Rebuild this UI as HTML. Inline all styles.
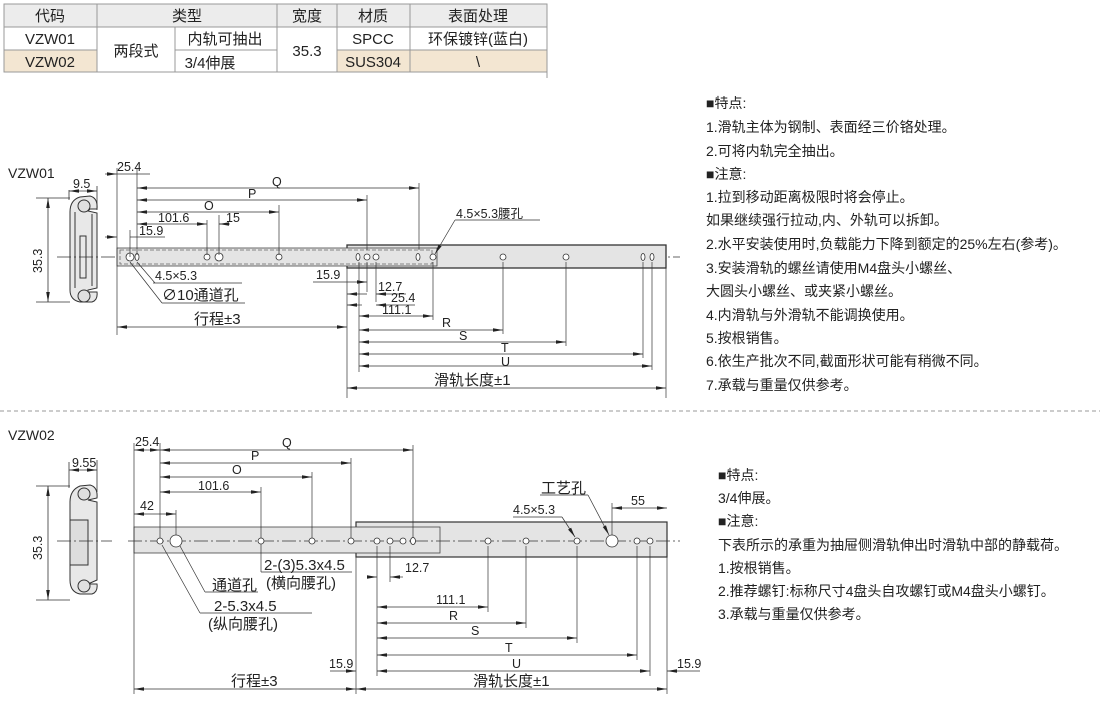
<!DOCTYPE html>
<html><head><meta charset="utf-8"><style>
body{margin:0;background:#fff;width:1117px;height:717px;overflow:hidden;font-family:"Liberation Sans","Noto Sans CJK SC",sans-serif}
svg{position:absolute;left:0;top:0}
.t{font-size:12.5px;fill:#222}
.c{font-size:15px;fill:#222}
.n{font-size:14px;fill:#222}
</style></head><body>
<svg width="1117" height="717" viewBox="0 0 1117 717" font-family="Liberation Sans, Noto Sans CJK SC, sans-serif">
<defs>
<marker id="a" viewBox="0 0 10 6" refX="10" refY="3" markerWidth="10" markerHeight="6" orient="auto-start-reverse" markerUnits="userSpaceOnUse"><path d="M0,1.2L10,3L0,4.8z" fill="#222"/></marker>
</defs>
<!-- table -->
<g stroke="#999" stroke-width="1">
<rect x="4" y="4" width="543" height="23" fill="#ececec"/>
<rect x="4" y="50" width="93" height="22" fill="#f3e6d2"/>
<rect x="337" y="50" width="73" height="22" fill="#f3e6d2"/>
<rect x="410" y="50" width="137" height="22" fill="#f3e6d2"/>
<line x1="4" y1="27" x2="547" y2="27"/><line x1="4" y1="50" x2="97" y2="50"/><line x1="175" y1="50" x2="277" y2="50"/><line x1="337" y1="50" x2="547" y2="50"/>
<line x1="4" y1="72" x2="547" y2="72"/>
<line x1="4" y1="4" x2="4" y2="72"/><line x1="97" y1="4" x2="97" y2="72"/><line x1="175" y1="27" x2="175" y2="72"/><line x1="277" y1="4" x2="277" y2="72"/><line x1="337" y1="4" x2="337" y2="72"/><line x1="410" y1="4" x2="410" y2="72"/><line x1="547" y1="4" x2="547" y2="78"/>
</g>
<g class="c" text-anchor="middle">
<text x="50" y="21">代码</text><text x="187" y="21">类型</text><text x="307" y="21">宽度</text><text x="373" y="21">材质</text><text x="478" y="21">表面处理</text>
<text x="50" y="44">VZW01</text><text x="50" y="67">VZW02</text><text x="136" y="56">两段式</text>
<text x="225" y="44">内轨可抽出</text><text x="210" y="68">3/4伸展</text>
<text x="307" y="56">35.3</text><text x="373" y="44">SPCC</text><text x="373" y="67">SUS304</text>
<text x="478" y="44">环保镀锌(蓝白)</text><text x="478" y="67">\</text>
</g>

<!-- VZW01 -->
<text x="8" y="178" class="n">VZW01</text>
<g fill="none" stroke="#333" stroke-width="1">
<path d="M80,197 Q70,200 70,212 L70,290 Q70,300 80,302 L92,302 Q98,300 97,292 L88,292 L88,290 L97,288 L97,213 L88,211 L90,209 L97,209 Q98,198 90,196Z" fill="#e8e8e8"/>
<path d="M75,212 L75,288 M92,214 L92,286 M80,236 L80,278 L86,278 L86,236Z"/>
<circle cx="84" cy="206" r="6" fill="#e0e0e0"/><circle cx="84" cy="296" r="6" fill="#e0e0e0"/>
</g>
<g stroke="#333" stroke-width="0.8" fill="none">
<line x1="36" y1="198" x2="70" y2="198"/><line x1="36" y1="302" x2="70" y2="302"/>
<line x1="48" y1="198" x2="48" y2="302" marker-start="url(#a)" marker-end="url(#a)"/>
<line x1="69" y1="190" x2="69" y2="200"/><line x1="97" y1="186" x2="97" y2="210"/>
<line x1="69" y1="191" x2="97" y2="191" marker-start="url(#a)" marker-end="url(#a)"/>
<line x1="57" y1="257" x2="680" y2="257" stroke-dasharray="14,3,2,3"/>
</g>
<text x="42" y="265" class="t" transform="rotate(-90 42 265)" dx="-8">35.3</text>
<text x="73" y="188" class="t">9.5</text>
<!-- rails -->
<rect x="347" y="245" width="319" height="23" fill="#e4e4e4" stroke="#333" stroke-width="1.3"/>
<rect x="117" y="248" width="320" height="18" fill="#e4e4e4" stroke="#444" stroke-width="0.8"/>
<rect x="120" y="250" width="312" height="14" fill="none" stroke="#666" stroke-width="0.8" stroke-dasharray="4,2"/>
<g fill="#fff" stroke="#333" stroke-width="0.8">
<circle cx="130" cy="257" r="4"/><ellipse cx="137" cy="257" rx="2" ry="3.5"/><circle cx="207" cy="257" r="3"/><circle cx="219" cy="257" r="4"/><circle cx="279" cy="257" r="3"/>
<ellipse cx="358" cy="257" rx="2" ry="3.5"/><circle cx="367" cy="257" r="3"/><circle cx="376" cy="257" r="3"/><ellipse cx="418" cy="257" rx="2" ry="3.5"/><circle cx="433" cy="257" r="3"/>
<circle cx="503" cy="257" r="3"/><circle cx="566" cy="257" r="3"/><ellipse cx="643" cy="257" rx="2" ry="3.5"/><ellipse cx="652" cy="257" rx="2" ry="3.5"/>
</g>
<g stroke="#333" stroke-width="0.7" fill="none">
<line x1="117" y1="168" x2="117" y2="335"/><line x1="137" y1="168" x2="137" y2="255"/><line x1="207" y1="220" x2="207" y2="255"/><line x1="219" y1="215" x2="219" y2="255"/><line x1="279" y1="205" x2="279" y2="255"/><line x1="367" y1="195" x2="367" y2="250"/><line x1="419" y1="183" x2="419" y2="250"/>
<line x1="105" y1="174" x2="117" y2="174" marker-end="url(#a)"/><line x1="117" y1="174" x2="150" y2="174"/>
<line x1="137" y1="188" x2="419" y2="188" marker-start="url(#a)" marker-end="url(#a)"/>
<line x1="137" y1="200" x2="367" y2="200" marker-start="url(#a)" marker-end="url(#a)"/>
<line x1="137" y1="212" x2="279" y2="212" marker-start="url(#a)" marker-end="url(#a)"/>
<line x1="137" y1="224" x2="207" y2="224" marker-start="url(#a)" marker-end="url(#a)"/><line x1="219" y1="224" x2="230" y2="224"/><line x1="219" y1="224" x2="228" y2="224" marker-start="url(#a)"/>
<line x1="105" y1="237" x2="117" y2="237" marker-end="url(#a)"/><line x1="130" y1="237" x2="165" y2="237"/><line x1="130" y1="230" x2="130" y2="257"/>
<line x1="137" y1="262" x2="155" y2="283"/><line x1="153" y1="283" x2="242" y2="283"/>
<line x1="130" y1="262" x2="162" y2="303"/><line x1="162" y1="303" x2="245" y2="303"/>
<line x1="117" y1="327" x2="347" y2="327" marker-start="url(#a)" marker-end="url(#a)"/>
<line x1="347" y1="268" x2="347" y2="398"/><line x1="666" y1="268" x2="666" y2="398"/>
<line x1="359" y1="262" x2="359" y2="372"/><line x1="367" y1="262" x2="367" y2="292"/><line x1="376" y1="262" x2="376" y2="302"/><line x1="433" y1="262" x2="433" y2="320"/>
<line x1="503" y1="262" x2="503" y2="334"/><line x1="566" y1="262" x2="566" y2="346"/><line x1="643" y1="262" x2="643" y2="358"/><line x1="652" y1="262" x2="652" y2="370"/>
<line x1="313" y1="282" x2="367" y2="282" marker-end="url(#a)"/>
<line x1="347" y1="294" x2="367" y2="294" marker-start="url(#a)"/><line x1="376" y1="294" x2="406" y2="294" marker-start="url(#a)"/>
<line x1="347" y1="305" x2="362" y2="305" marker-start="url(#a)"/><line x1="376" y1="305" x2="415" y2="305" marker-start="url(#a)"/>
<line x1="359" y1="316" x2="433" y2="316" marker-start="url(#a)" marker-end="url(#a)"/>
<line x1="359" y1="330" x2="503" y2="330" marker-start="url(#a)" marker-end="url(#a)"/>
<line x1="359" y1="342" x2="566" y2="342" marker-start="url(#a)" marker-end="url(#a)"/>
<line x1="359" y1="354" x2="643" y2="354" marker-start="url(#a)" marker-end="url(#a)"/>
<line x1="359" y1="366" x2="652" y2="366" marker-start="url(#a)" marker-end="url(#a)"/>
<line x1="347" y1="388" x2="666" y2="388" marker-start="url(#a)" marker-end="url(#a)"/>
<line x1="455" y1="220" x2="540" y2="220"/><line x1="455" y1="220" x2="435" y2="254" marker-end="url(#a)"/>
</g>
<g class="t">
<text x="117" y="171">25.4</text><text x="272" y="186">Q</text><text x="248" y="198">P</text><text x="204" y="210">O</text><text x="158" y="222">101.6</text><text x="226" y="222">15</text><text x="139" y="235">15.9</text>
<text x="155" y="280">4.5×5.3</text><text x="316" y="279">15.9</text><text x="378" y="291">12.7</text><text x="391" y="302">25.4</text><text x="382" y="314">111.1</text>
<text x="442" y="327">R</text><text x="459" y="340">S</text><text x="501" y="352">T</text><text x="501" y="366">U</text><text x="456" y="218">4.5×5.3腰孔</text>
</g>
<text x="162" y="300" class="c">∅10通道孔</text>
<text x="194" y="324" class="c">行程±3</text>
<text x="434" y="385" class="c">滑轨长度±1</text>

<line x1="0" y1="411" x2="1100" y2="411" stroke="#999" stroke-dasharray="4,3"/>

<!-- VZW02 -->
<text x="8" y="440" class="n">VZW02</text>
<g fill="none" stroke="#333" stroke-width="1">
<path d="M80,486 Q70,490 70,502 L70,580 Q70,592 80,594 L92,594 Q98,592 97,584 L88,584 L97,580 L97,502 L88,500 L97,498 Q98,487 90,485Z" fill="#e8e8e8"/>
<rect x="70" y="520" width="18" height="45" fill="#ddd"/>
<circle cx="84" cy="494" r="6" fill="#e0e0e0"/><circle cx="84" cy="586" r="6" fill="#e0e0e0"/>
</g>
<g stroke="#333" stroke-width="0.8" fill="none">
<line x1="36" y1="486" x2="70" y2="486"/><line x1="36" y1="600" x2="70" y2="600"/>
<line x1="48" y1="486" x2="48" y2="600" marker-start="url(#a)" marker-end="url(#a)"/>
<line x1="69" y1="462" x2="69" y2="488"/><line x1="97" y1="460" x2="97" y2="492"/>
<line x1="69" y1="470" x2="97" y2="470" marker-start="url(#a)" marker-end="url(#a)"/>
<line x1="57" y1="541" x2="112" y2="541" stroke-dasharray="14,3,2,3"/>
</g>
<text x="42" y="552" class="t" transform="rotate(-90 42 552)" dx="-8">35.3</text>
<text x="72" y="467" class="t">9.55</text>
<rect x="356" y="522" width="311" height="35" fill="#e4e4e4" stroke="#333" stroke-width="1.2"/>
<rect x="134" y="527" width="306" height="26" fill="#e4e4e4" stroke="#444" stroke-width="0.8"/>
<line x1="128" y1="541" x2="680" y2="541" stroke="#333" stroke-width="0.7" stroke-dasharray="14,3,2,3"/>
<g fill="#fff" stroke="#333" stroke-width="0.8">
<circle cx="160" cy="541" r="3"/><circle cx="176" cy="541" r="6"/><circle cx="261" cy="541" r="3"/><circle cx="312" cy="541" r="3"/><circle cx="351" cy="541" r="3"/>
<circle cx="377" cy="541" r="3"/><circle cx="390" cy="541" r="3"/><circle cx="403" cy="541" r="3"/><ellipse cx="413" cy="541" rx="2.5" ry="3.5"/>
<circle cx="488" cy="541" r="3"/><circle cx="526" cy="541" r="3"/><circle cx="577" cy="541" r="3"/><circle cx="612" cy="541" r="6"/><circle cx="637" cy="541" r="3"/><circle cx="650" cy="541" r="3"/>
</g>
<g stroke="#333" stroke-width="0.7" fill="none">
<line x1="134" y1="443" x2="134" y2="694"/><line x1="160" y1="443" x2="160" y2="538"/><line x1="176" y1="510" x2="176" y2="535"/>
<line x1="261" y1="487" x2="261" y2="538"/><line x1="312" y1="472" x2="312" y2="538"/><line x1="351" y1="458" x2="351" y2="538"/><line x1="413" y1="445" x2="413" y2="538"/>
<line x1="134" y1="450" x2="146" y2="450" marker-start="url(#a)"/><line x1="146" y1="450" x2="160" y2="450" marker-end="url(#a)"/>
<line x1="160" y1="450" x2="413" y2="450" marker-start="url(#a)" marker-end="url(#a)"/>
<line x1="160" y1="463" x2="351" y2="463" marker-start="url(#a)" marker-end="url(#a)"/>
<line x1="160" y1="477" x2="312" y2="477" marker-start="url(#a)" marker-end="url(#a)"/>
<line x1="160" y1="492" x2="261" y2="492" marker-start="url(#a)" marker-end="url(#a)"/>
<line x1="134" y1="514" x2="176" y2="514" marker-start="url(#a)" marker-end="url(#a)"/>
<line x1="261" y1="544" x2="261" y2="572"/><line x1="261" y1="572" x2="352" y2="572"/>
<line x1="180" y1="546" x2="205" y2="592"/><line x1="205" y1="592" x2="258" y2="592"/>
<line x1="162" y1="545" x2="200" y2="613"/><line x1="200" y1="613" x2="312" y2="613"/>
<line x1="356" y1="557" x2="356" y2="694"/><line x1="667" y1="557" x2="667" y2="694"/>
<line x1="377" y1="546" x2="377" y2="676"/><line x1="390" y1="546" x2="390" y2="582"/>
<line x1="488" y1="546" x2="488" y2="612"/><line x1="526" y1="546" x2="526" y2="628"/><line x1="577" y1="546" x2="577" y2="643"/><line x1="637" y1="546" x2="637" y2="660"/><line x1="650" y1="546" x2="650" y2="676"/><line x1="612" y1="503" x2="612" y2="535"/>
<line x1="367" y1="577" x2="377" y2="577" marker-end="url(#a)"/><line x1="390" y1="577" x2="403" y2="577" marker-start="url(#a)"/>
<line x1="377" y1="607" x2="488" y2="607" marker-start="url(#a)" marker-end="url(#a)"/>
<line x1="377" y1="623" x2="526" y2="623" marker-start="url(#a)" marker-end="url(#a)"/>
<line x1="377" y1="638" x2="577" y2="638" marker-start="url(#a)" marker-end="url(#a)"/>
<line x1="377" y1="655" x2="637" y2="655" marker-start="url(#a)" marker-end="url(#a)"/>
<line x1="377" y1="671" x2="650" y2="671" marker-start="url(#a)" marker-end="url(#a)"/>
<line x1="330" y1="671" x2="356" y2="671" marker-end="url(#a)"/><line x1="667" y1="671" x2="700" y2="671" marker-start="url(#a)"/>
<line x1="134" y1="689" x2="356" y2="689" marker-start="url(#a)" marker-end="url(#a)"/>
<line x1="356" y1="689" x2="667" y2="689" marker-start="url(#a)" marker-end="url(#a)"/>
<line x1="612" y1="508" x2="667" y2="508" marker-start="url(#a)" marker-end="url(#a)"/>
<line x1="540" y1="495" x2="588" y2="495"/><line x1="588" y1="495" x2="609" y2="535" marker-end="url(#a)"/>
<line x1="513" y1="517" x2="562" y2="517"/><line x1="562" y1="517" x2="575" y2="537" marker-end="url(#a)"/>
</g>
<g class="t">
<text x="135" y="446">25.4</text><text x="282" y="447">Q</text><text x="251" y="460">P</text><text x="232" y="474">O</text><text x="198" y="490">101.6</text><text x="140" y="510">42</text>
<text x="405" y="572">12.7</text><text x="436" y="604">111.1</text><text x="449" y="620">R</text><text x="471" y="635">S</text><text x="505" y="652">T</text><text x="512" y="668">U</text>
<text x="329" y="668">15.9</text><text x="677" y="668">15.9</text><text x="513" y="514">4.5×5.3</text><text x="631" y="505">55</text>
</g>
<g class="c">
<text x="264" y="570">2-(3)5.3x4.5</text><text x="266" y="588">(横向腰孔)</text>
<text x="212" y="590">通道孔</text><text x="214" y="611">2-5.3x4.5</text><text x="208" y="629">(纵向腰孔)</text>
<text x="231" y="686">行程±3</text><text x="473" y="686">滑轨长度±1</text><text x="541" y="493">工艺孔</text>
</g>

<!-- notes -->
<g class="n">
<text x="706" y="108">■特点:</text>
<text x="706" y="132">1.滑轨主体为钢制、表面经三价铬处理。</text>
<text x="706" y="156">2.可将内轨完全抽出。</text>
<text x="706" y="179">■注意:</text>
<text x="706" y="202">1.拉到移动距离极限时将会停止。</text>
<text x="706" y="225">如果继续强行拉动,内、外轨可以拆卸。</text>
<text x="706" y="249">2.水平安装使用时,负载能力下降到额定的25%左右(参考)。</text>
<text x="706" y="273">3.安装滑轨的螺丝请使用M4盘头小螺丝、</text>
<text x="706" y="296">大圆头小螺丝、或夹紧小螺丝。</text>
<text x="706" y="320">4.内滑轨与外滑轨不能调换使用。</text>
<text x="706" y="343">5.按根销售。</text>
<text x="706" y="366">6.依生产批次不同,截面形状可能有稍微不同。</text>
<text x="706" y="390">7.承载与重量仅供参考。</text>
<text x="718" y="480">■特点:</text>
<text x="718" y="503">3/4伸展。</text>
<text x="718" y="526">■注意:</text>
<text x="718" y="550">下表所示的承重为抽屉侧滑轨伸出时滑轨中部的静载荷。</text>
<text x="718" y="573">1.按根销售。</text>
<text x="718" y="596">2.推荐螺钉:标称尺寸4盘头自攻螺钉或M4盘头小螺钉。</text>
<text x="718" y="619">3.承载与重量仅供参考。</text>
</g>
</svg>
</body></html>
